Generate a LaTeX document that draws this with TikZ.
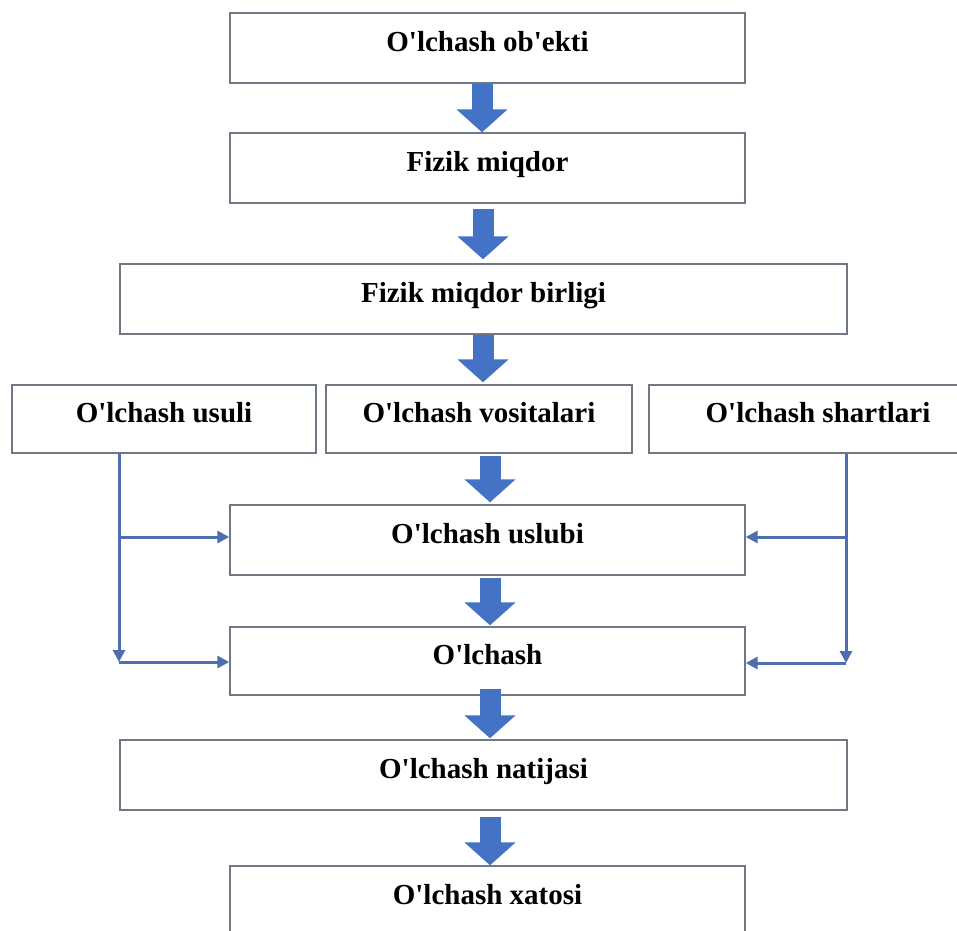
\documentclass[tikz,border=0pt]{standalone}
\usepackage{fontspec}
\newfontfamily\lblfont{Liberation Serif}
\usetikzlibrary{arrows.meta,calc}

\definecolor{boxline}{RGB}{112,120,134}
\definecolor{blockblue}{RGB}{68,114,196}
\definecolor{connblue}{RGB}{79,110,176}

\tikzset{
  stage/.style={draw=boxline, line width=1.4pt, fill=white, rectangle,
    inner sep=0pt, text height=22pt, text depth=15pt,
    font=\lblfont\bfseries\fontsize{29}{34}\selectfont},
  blockarrow/.style={draw=blockblue, line width=21pt, line cap=butt,
    -{Triangle[length=23pt,width=50pt,fill=blockblue]}},
  conn/.style={draw=connblue, line width=3pt,
    -{Triangle[length=12pt,width=12pt,fill=connblue]}}
}

\begin{document}
\begin{tikzpicture}[x=1pt,y=-1pt]
  \clip (0,0) rectangle (957,930);
  \fill[white] (0,0) rectangle (957,930);

  % main chain of stages
  \node[stage, minimum width=515pt, minimum height=70pt] (b1) at (487.5,48) {O'lchash ob'ekti};
  \node[stage, minimum width=515pt, minimum height=70pt] (b2) at (487.5,168) {Fizik miqdor};
  \node[stage, minimum width=727pt, minimum height=70pt] (b3) at (483.5,299) {Fizik miqdor birligi};

  % three inputs in one row
  \node[stage, minimum width=304pt, minimum height=68pt] (b4) at (164,419) {O'lchash usuli};
  \node[stage, minimum width=306pt, minimum height=68pt] (b5) at (479,419) {O'lchash vositalari};
  \node[stage, minimum width=338pt, minimum height=68pt] (b6) at (818,419) {O'lchash shartlari};

  \node[stage, minimum width=515pt, minimum height=70pt] (b7) at (487.5,540) {O'lchash uslubi};
  \node[stage, minimum width=515pt, minimum height=68pt] (b8) at (487.5,661) {O'lchash};
  \node[stage, minimum width=727pt, minimum height=70pt] (b9) at (483.5,775) {O'lchash natijasi};
  \node[stage, minimum width=515pt, minimum height=70pt] (b10) at (487.5,901) {O'lchash xatosi};

  % thick block arrows between stages
  \draw[blockarrow] ($(b1.south)+(-5.5,0)$) -- ($(b2.north)+(-5.5,0)$);
  \draw[blockarrow] ($(b2.south)+(-4.5,5)$) -- ($(b3.north)+(-0.5,-4)$);
  \draw[blockarrow] ($(b3.south)+(-0.5,0)$) -- ($(b5.north)+(4,-2)$);
  \draw[blockarrow] ($(b5.south)+(11,2)$) -- ($(b7.north)+(2.5,-2)$);
  \draw[blockarrow] ($(b7.south)+(2.5,2)$) -- ($(b8.north)+(2.5,-1)$);
  \draw[blockarrow] ($(b8.south)+(2.5,-7)$) -- ($(b9.north)+(6.5,-1)$);
  \draw[blockarrow] ($(b9.south)+(6.5,6)$) -- ($(b10.north)+(2.5,0)$);

  % side feeds into the method and the measurement
  \coordinate (lj1) at (119,537);
  \coordinate (lj2) at (119,662);
  \coordinate (rj1) at (846,537);
  \coordinate (rj2) at (846,663);

  \draw[conn] (b4.south -| lj1) -- (lj2);
  \draw[conn] (lj1) -- (lj1 -| b7.west);
  \draw[conn] (lj2) -- (lj2 -| b8.west);

  \draw[conn] (b6.south -| rj1) -- (rj2);
  \draw[conn] (rj1) -- (rj1 -| b7.east);
  \draw[conn] (rj2) -- (rj2 -| b8.east);
\end{tikzpicture}
\end{document}
